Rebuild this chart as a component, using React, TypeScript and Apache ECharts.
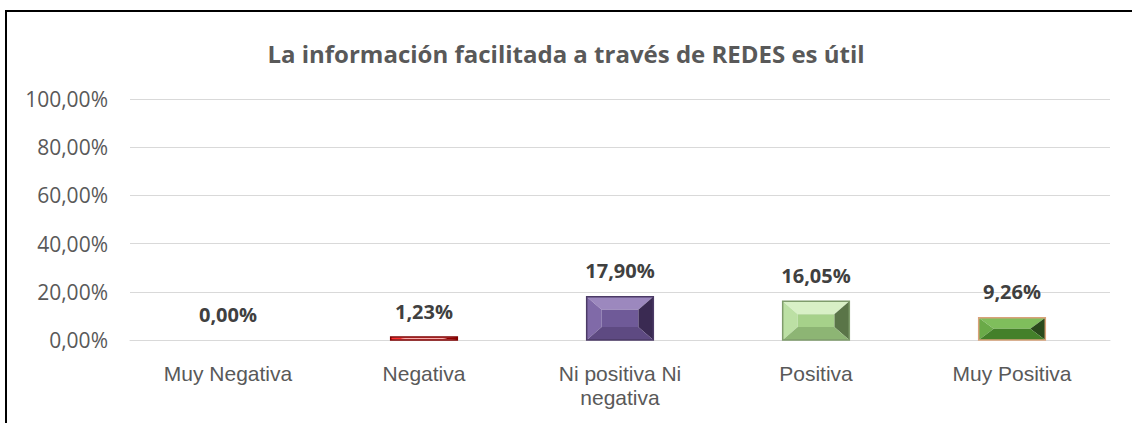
import React, { useEffect, useRef } from "react";
import * as echarts from "echarts";

const categories = ["Muy Negativa", "Negativa", "Ni positiva Ni\nnegativa", "Positiva", "Muy Positiva"];
const values = [0, 0.0123, 0.179, 0.1605, 0.0926];
const yTicks = [0, 0.2, 0.4, 0.6, 0.8, 1.0];

// bevel palettes: [face, top, left, right, bottom, border]
const palettes = [
  ["#FF0000", "#FF6060", "#FF3030", "#A00000", "#D00000", "#7F0000"],
  ["#FF0000", "#FF8080", "#FF3030", "#900000", "#F4A0A0", "#7F0000"],
  ["#6F5A98", "#9C88BE", "#806AA8", "#3A2A52", "#5E4A82", "#4B3A66"],
  ["#A6D18A", "#D8F0C6", "#BCE0A4", "#5A7548", "#8DB574", "#7F9C6C"],
  ["#5A9A3A", "#7FBE5C", "#6AAA48", "#2A4A1C", "#44802A", "#D9A27A"],
];

const fmt = (v: number) => (v * 100).toFixed(2).replace(".", ",") + "%";

export default function App() {
  const ref = useRef<HTMLDivElement>(null);
  useEffect(() => {
    const chart = echarts.init(ref.current!, null, { renderer: "svg" });
    chart.setOption({
      animation: false,
      backgroundColor: "#FFFFFF",
      title: {
        text: "La información facilitada a través de REDES es útil",
        left: "center",
        top: 36,
        textStyle: { fontFamily: "Open Sans", fontSize: 24, fontWeight: "bold", color: "#595959" },
      },
      graphic: [
        {
          type: "polyline",
          shape: { points: [[6, 430], [6, 11], [1140, 11]] },
          style: { stroke: "#000000", lineWidth: 2, fill: null },
          z: 10,
        },
      ],
      grid: { left: 130, right: 22, top: 99, bottom: 83 },
      xAxis: {
        type: "category",
        data: categories,
        axisLine: { lineStyle: { color: "#D9D9D9", width: 1 } },
        axisTick: { show: false },
        axisLabel: {
          color: "#595959",
          fontFamily: "Liberation Sans",
          fontSize: 21,
          lineHeight: 24,
          margin: 21,
          interval: 0,
        },
      },
      yAxis: {
        type: "value",
        min: 0,
        max: 1,
        interval: 0.2,
        axisLine: { show: false },
        axisTick: { show: false },
        splitLine: { lineStyle: { color: "#D9D9D9", width: 1 } },
        axisLabel: {
          color: "#595959",
          fontFamily: "Open Sans",
          fontSize: 21,
          margin: 22,
          formatter: (v: number) => (yTicks.some((t) => Math.abs(t - v) < 1e-9) ? fmt(v) : ""),
        },
      },
      series: [
        {
          type: "custom",
          data: values.map((v, i) => [i, v]),
          encode: { x: 0, y: 1 },
          renderItem: (params: any, api: any) => {
            const idx = api.value(0);
            const val = api.value(1);
            const top = api.coord([idx, val]);
            const base = api.coord([idx, 0]);
            const bw = api.size([1, 0])[0] * 0.34;
            const x0 = top[0] - bw / 2;
            const x1 = top[0] + bw / 2;
            const y0 = top[1];
            const y1 = base[1];
            const h = y1 - y0;
            const p = palettes[idx];
            const children: any[] = [];
            if (h > 0.5) {
              const b = Math.min(13, h / 2);
              const bx = Math.min(15, bw / 2);
              const ix0 = x0 + bx, ix1 = x1 - bx, iy0 = y0 + b, iy1 = y1 - b;
              children.push(
                { type: "polygon", shape: { points: [[x0, y0], [x1, y0], [ix1, iy0], [ix0, iy0]] }, style: { fill: p[1] } },
                { type: "polygon", shape: { points: [[x0, y0], [ix0, iy0], [ix0, iy1], [x0, y1]] }, style: { fill: p[2] } },
                { type: "polygon", shape: { points: [[x1, y0], [x1, y1], [ix1, iy1], [ix1, iy0]] }, style: { fill: p[3] } },
                { type: "polygon", shape: { points: [[x0, y1], [ix0, iy1], [ix1, iy1], [x1, y1]] }, style: { fill: p[4] } },
                { type: "rect", shape: { x: ix0, y: iy0, width: Math.max(0, ix1 - ix0), height: Math.max(0, iy1 - iy0) }, style: { fill: p[0] } },
                { type: "rect", shape: { x: x0, y: y0, width: bw, height: h }, style: { fill: null, stroke: p[5], lineWidth: 1.5 } }
              );
            }
            children.push({
              type: "text",
              x: top[0],
              y: y0 - 26,
              style: {
                text: fmt(val),
                align: "center",
                verticalAlign: "middle",
                fontFamily: "Open Sans",
                fontSize: 20,
                fontWeight: "bold",
                fill: "#404040",
              },
            });
            return { type: "group", children };
          },
        },
      ],
    });
    return () => chart.dispose();
  }, []);
  return (
    <div
      ref={ref}
      style={{ position: "fixed", left: 0, top: 0, width: 1132, height: 423 }}
    />
  );
}
